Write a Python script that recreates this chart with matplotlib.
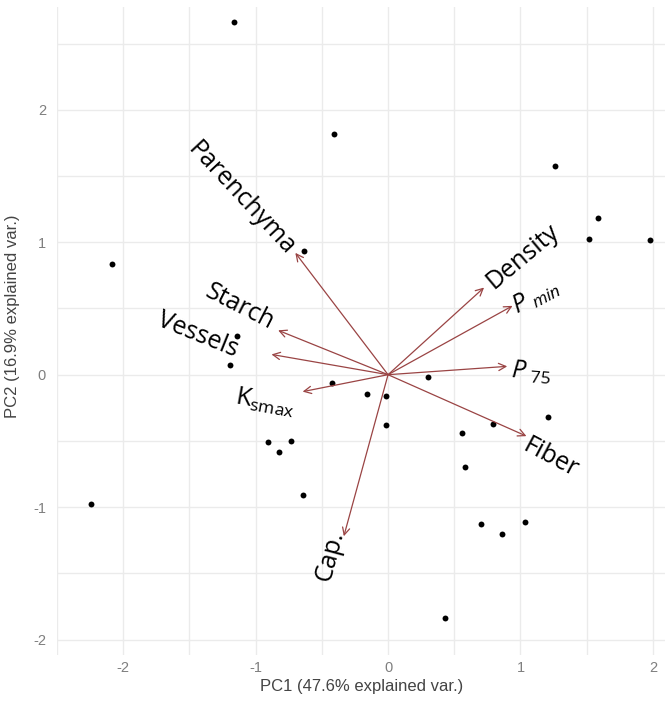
import numpy as np
import matplotlib as mpl
import matplotlib.pyplot as plt

mpl.rcParams['font.family'] = 'Liberation Sans'
mpl.rcParams['axes.unicode_minus'] = False
mpl.rcParams['mathtext.fontset'] = 'custom'
mpl.rcParams['mathtext.rm'] = 'Open Sans'
mpl.rcParams['mathtext.it'] = 'Open Sans:italic'

# sample scores on the first two components
pc1 = [-1.166, -0.41, 1.264, 1.586, 1.52, 1.975, -0.637, -2.086, -1.137, -1.19,
       -0.425, 0.30, -0.16, -0.016, -0.016, 1.21, 0.79, 0.56, -0.91, -0.73,
       -0.82, 0.58, -0.64, -2.24, 0.70, 1.035, 0.86, 0.43]
pc2 = [2.66, 1.82, 1.577, 1.18, 1.028, 1.02, 0.934, 0.838, 0.29, 0.07,
       -0.063, -0.018, -0.143, -0.16, -0.38, -0.32, -0.376, -0.437, -0.51, -0.50,
       -0.587, -0.695, -0.91, -0.976, -1.13, -1.11, -1.20, -1.84]

# variable loadings (arrow tips)
variables = ['Parenchyma', 'Starch', 'Vessels', 'Ksmax', 'Density',
             'Pmin', 'P75', 'Fiber', 'Cap.']
load1 = [-0.70, -0.83, -0.88, -0.645, 0.725, 0.94, 0.90, 1.045, -0.334]
load2 = [0.92, 0.335, 0.153, -0.128, 0.658, 0.52, 0.063, -0.464, -1.22]

labels = {
    'Parenchyma': 'Parenchyma',
    'Starch': 'Starch',
    'Vessels': 'Vessels',
    'Ksmax': r'$\mathrm{K}_{\mathrm{smax}}$',
    'Density': 'Density',
    'Pmin': r'$P_{\ min}$',
    'P75': r'$P_{\ 75}$',
    'Fiber': 'Fiber',
    'Cap.': 'Cap.',
}
# where each label sits (x, y, rotation)
label_place = {
    'Parenchyma': (-1.11, 1.33, -47),
    'Starch': (-1.12, 0.51, -27),
    'Vessels': (-1.44, 0.30, -22),
    'Ksmax': (-0.93, -0.21, -10),
    'Density': (1.02, 0.89, 40),
    'Pmin': (1.12, 0.59, 28),
    'P75': (1.08, 0.02, -4),
    'Fiber': (1.23, -0.63, -28),
    'Cap.': (-0.436, -1.37, 75),
}

fig = plt.figure(figsize=(6.65, 7.02), dpi=100)
ax = fig.add_axes([0.0857, 0.0655, 0.916, 0.926])

ax.set_xlim(-2.48, 2.1)
ax.set_ylim(-2.12, 2.78)
ax.set_aspect('equal', adjustable='box')

for side in ax.spines.values():
    side.set_visible(False)

ax.set_xticks([-2, -1, 0, 1, 2])
ax.set_yticks([-2, -1, 0, 1, 2])
ax.set_xticks(np.arange(-2.5, 2.1, 0.5), minor=True)
ax.set_yticks(np.arange(-2.0, 2.6, 0.5), minor=True)
ax.grid(which='major', color='#ebebeb', lw=1.0)
ax.grid(which='minor', color='#ebebeb', lw=1.0)
ax.set_axisbelow(True)
ax.tick_params(which='both', length=0)
ax.tick_params(axis='both', labelsize=10.5, colors='#7f7f7f', pad=4)
ax.tick_params(axis='y', pad=8)

ax.scatter(pc1, pc2, s=18, color='black', zorder=3, linewidths=0)

for name, x, y in zip(variables, load1, load2):
    ax.annotate('', xy=(x, y), xytext=(0, 0),
                arrowprops=dict(arrowstyle='->', color='#9a4444', lw=0.9,
                                mutation_scale=13, shrinkA=0, shrinkB=0),
                zorder=4)
    lx, ly, rot = label_place[name]
    ax.text(lx, ly, labels[name], rotation=rot, rotation_mode='anchor',
            ha='center', va='center', fontsize=18, family='Open Sans',
            color='black', zorder=5)

ax.set_xlabel('PC1 (47.6% explained var.)', fontsize=12, color='#444444', labelpad=3)
ax.set_ylabel('PC2 (16.9% explained var.)', fontsize=12, color='#444444', labelpad=6)
ax.yaxis.set_label_coords(-0.06, 0.523)

fig.savefig('out.png', dpi=100)
